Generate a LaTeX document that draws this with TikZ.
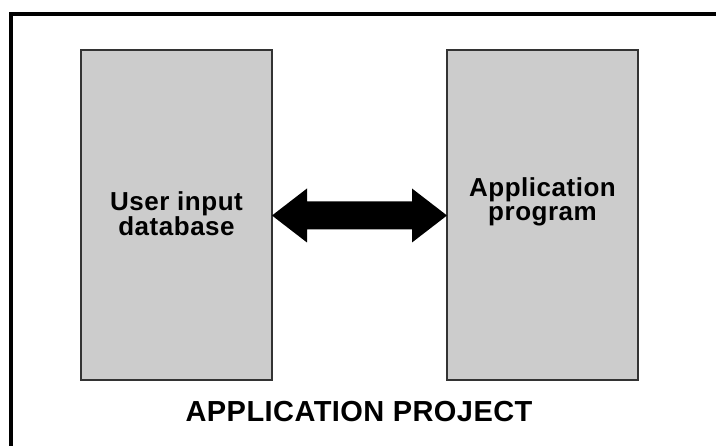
\documentclass[tikz,border=0pt]{standalone}
\usepackage{fontspec}
\setmainfont{Liberation Sans}
\usetikzlibrary{calc}
\tikzset{
  panel/.style={draw=black!80, line width=2pt, fill=black!20,
    minimum width=191pt, minimum height=330pt, inner sep=0pt, outer sep=0pt},
  boxtext/.style={align=center, inner sep=0pt,
    font=\fontsize{26}{24}\selectfont\bfseries\addfontfeatures{LetterSpace=2}},
  titletext/.style={inner sep=0pt,
    font=\fontsize{29}{30}\selectfont\bfseries\addfontfeatures{LetterSpace=1.5}},
  frame/.style={draw=black, line width=4pt}
}
\begin{document}
\begin{tikzpicture}[x=1pt,y=-1pt]
  \useasboundingbox (0,0) rectangle (716,446);
  \clip (0,0) rectangle (716,446);
  % outer frame, running off the right and bottom edges
  \draw[frame] (11,14) rectangle (760,480);

  % the two panels
  \node[panel] (ua) at (176.5,215.5) {};
  \node[panel] (ap) at (542.5,215.5) {};

  \node[boxtext] (uatext) at (176.5,214) {User input\\database};
  \node[boxtext] (aptext) at (542.5,202) {Application\\program};

  % bold double-headed arrow between the panels
  \fill[black] (ua.east)
    -- ($(ua.east)+(35,-27)$) -- ($(ua.east)+(35,-14)$)
    -- ($(ap.west)+(-35,-14)$) -- ($(ap.west)+(-35,-27)$)
    -- (ap.west)
    -- ($(ap.west)+(-35,27)$) -- ($(ap.west)+(-35,14)$)
    -- ($(ua.east)+(35,14)$) -- ($(ua.east)+(35,27)$)
    -- cycle;

  \node[titletext, anchor=base] (title) at (359,422) {APPLICATION PROJECT};
\end{tikzpicture}
\end{document}
